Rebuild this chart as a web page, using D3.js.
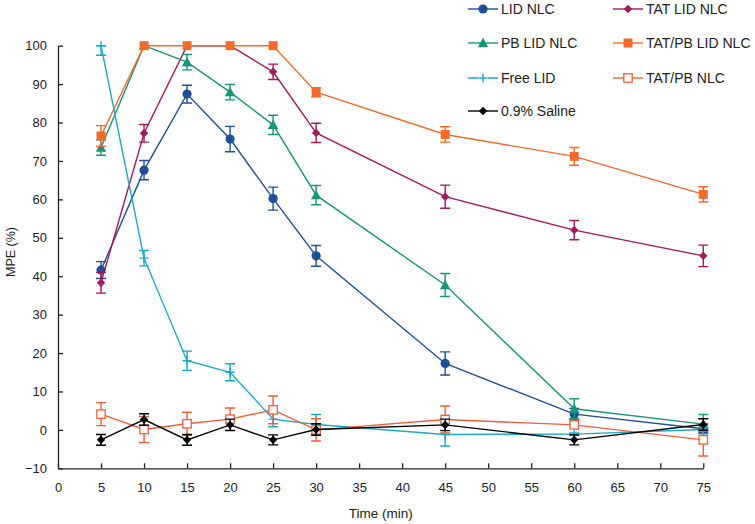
<!DOCTYPE html>
<html>
<head>
<meta charset="utf-8">
<script src="https://cdn.jsdelivr.net/npm/d3@7"></script>
<style>
body { margin: 0; background: #fff; }
svg { font-family: "Liberation Sans", Arial, sans-serif; }
</style>
</head>
<body>
<div id="chart"></div>
<script>
var width = 755, height = 524;

// time points (min)
var times = [5, 10, 15, 20, 25, 30, 45, 60, 75];
var xTicks = [0, 5, 10, 15, 20, 25, 30, 35, 40, 45, 50, 55, 60, 65, 70, 75];
var yTicks = [-10, 0, 10, 20, 30, 40, 50, 60, 70, 80, 90, 100];

// MPE (%) means and errors
var lidNlc = [41.6, 67.6, 87.4, 75.7, 60.2, 45.3, 17.3, 4.1, 0.3];
var lidNlcErr = [2.2, 2.5, 2.3, 3.3, 3.0, 2.7, 3.0, 1.5, 1.0];
var tatLidNlc = [38.3, 77.2, 100, 100, 93.2, 77.3, 60.7, 52.0, 45.3];
var tatLidNlcErr = [2.7, 2.3, 0, 0, 2.0, 2.5, 3.0, 2.5, 2.8];
var pbLidNlc = [73.5, 100, 95.7, 87.9, 79.4, 61.1, 37.7, 5.5, 1.5];
var pbLidNlcErr = [2.0, 0, 2.0, 2.0, 2.5, 2.5, 3.0, 2.6, 2.5];
var tatPbLidNlc = [76.5, 100, 100, 100, 100, 87.9, 76.9, 71.2, 61.3];
var tatPbLidNlcErr = [2.7, 0, 0, 0, 0, 1.2, 2.0, 2.3, 2.0];
var freeLid = [100, 44.7, 18.0, 15.0, 2.8, 1.4, -1.2, -1.1, 0.1];
var freeLidErr = [2.5, 2.0, 2.5, 2.2, 2.0, 2.6, 3.0, 0.3, 0.5];
var tatPbNlc = [4.1, 0.1, 1.6, 2.8, 5.2, 0.0, 2.7, 1.3, -2.6];
var tatPbNlcErr = [3.0, 3.4, 3.0, 2.9, 3.6, 2.9, 3.5, 0.3, 4.2];
var saline = [-2.6, 2.7, -2.6, 1.3, -2.6, 0.1, 1.3, -2.6, 1.4];
var salineErr = [1.4, 1.5, 1.4, 1.5, 1.3, 1.5, 1.5, 1.3, 1.5];

var seriesNames = ["LID NLC", "TAT LID NLC", "PB LID NLC", "TAT/PB LID NLC", "Free LID", "TAT/PB NLC", "0.9% Saline"];
var seriesColors = ["#1f4f96", "#a2195c", "#17967a", "#f26b2d", "#1ba9c7", "#f0603a", "#000000"];
var seriesShapes = ["circle", "diamond", "triangle", "square", "plus", "hollowSquare", "diamond"];
var seriesVals = [lidNlc, tatLidNlc, pbLidNlc, tatPbLidNlc, freeLid, tatPbNlc, saline];
var seriesErrs = [lidNlcErr, tatLidNlcErr, pbLidNlcErr, tatPbLidNlcErr, freeLidErr, tatPbNlcErr, salineErr];

var series = seriesNames.map(function(n, i) {
	return {
		name: n, color: seriesColors[i], shape: seriesShapes[i],
		points: times.map(function(t, j) { return { t: t, v: seriesVals[i][j], e: seriesErrs[i][j] }; })
	};
});

var x0 = 58, x1 = 703.3, y0 = 468.3, y1 = 45.7;
var x = d3.scaleLinear().domain([0, 75]).range([x0, x1]);
var y = d3.scaleLinear().domain([-10, 100]).range([y0, y1]);

var svg = d3.select("#chart").append("svg").attr("width", width).attr("height", height);

// 坐标轴
var xAxis = svg.append("g").attr("transform", "translate(0," + y0 + ")")
	.call(d3.axisBottom(x).tickValues(xTicks).tickSizeInner(-5).tickSizeOuter(0).tickPadding(14));
var yAxis = svg.append("g").attr("transform", "translate(" + x0 + ",0)")
	.call(d3.axisLeft(y).tickValues(yTicks).tickSizeInner(-5).tickSizeOuter(0).tickPadding(11));
[xAxis, yAxis].forEach(function(a) {
	a.selectAll("path").attr("stroke", "#222").attr("stroke-width", 1.3);
	a.selectAll("line").attr("stroke", "#222").attr("stroke-width", 1.3);
	a.selectAll("text").attr("font-size", 13).attr("fill", "#222").attr("font-family", "Liberation Sans, Arial, sans-serif");
});

svg.append("text").attr("x", (x0 + x1) / 2).attr("y", 518).attr("text-anchor", "middle")
	.attr("font-size", 13.5).attr("fill", "#222").text("Time (min)");
svg.append("text").attr("transform", "translate(15,252) rotate(-90)")
	.attr("text-anchor", "middle").attr("font-size", 12.5).attr("fill", "#222").text("MPE (%)");

function drawMarker(g, shape, color, cx, cy) {
	if (shape == "circle") {
		g.append("circle").attr("cx", cx).attr("cy", cy).attr("r", 4.6).attr("fill", color);
	} else if (shape == "diamond") {
		var s = 4.2;
		g.append("path").attr("d", "M" + cx + "," + (cy - s) + "L" + (cx + s) + "," + cy + "L" + cx + "," + (cy + s) + "L" + (cx - s) + "," + cy + "Z").attr("fill", color);
	} else if (shape == "triangle") {
		var s = 5.2;
		g.append("path").attr("d", "M" + cx + "," + (cy - s) + "L" + (cx + s) + "," + (cy + s * 0.8) + "L" + (cx - s) + "," + (cy + s * 0.8) + "Z").attr("fill", color);
	} else if (shape == "square") {
		g.append("rect").attr("x", cx - 4.5).attr("y", cy - 4.5).attr("width", 9).attr("height", 9).attr("fill", color);
	} else if (shape == "hollowSquare") {
		g.append("rect").attr("x", cx - 4.2).attr("y", cy - 4.2).attr("width", 8.4).attr("height", 8.4)
			.attr("fill", "#fff").attr("stroke", color).attr("stroke-width", 1.3);
	} else if (shape == "plus") {
		g.append("path").attr("d", "M" + (cx - 4.5) + "," + cy + "H" + (cx + 4.5) + "M" + cx + "," + (cy - 4.5) + "V" + (cy + 4.5))
			.attr("stroke", color).attr("stroke-width", 1.4);
	}
}

var line = d3.line().x(function(d) { return x(d.t); }).y(function(d) { return y(d.v); });

series.forEach(function(s) {
	var g = svg.append("g");
	// 误差线
	s.points.forEach(function(p) {
		if (p.e <= 0) return;
		var top = Math.min(100, p.v + p.e), bot = p.v - p.e;
		var cx = x(p.t);
		g.append("path")
			.attr("d", "M" + cx + "," + y(top) + "V" + y(bot) +
				"M" + (cx - 5) + "," + y(top) + "H" + (cx + 5) +
				"M" + (cx - 5) + "," + y(bot) + "H" + (cx + 5))
			.attr("stroke", s.color).attr("stroke-width", 1.4).attr("fill", "none");
	});
	g.append("path").datum(s.points).attr("d", line)
		.attr("fill", "none").attr("stroke", s.color).attr("stroke-width", 1.4);
	s.points.forEach(function(p) { drawMarker(g, s.shape, s.color, x(p.t), y(p.v)); });
});

// 图例
var legendPos = [[468, 9], [613, 9], [468, 43], [613, 43], [468, 78], [613, 78], [468, 111]];
series.forEach(function(s, i) {
	var lx = legendPos[i][0], ly = legendPos[i][1];
	var g = svg.append("g");
	if (s.shape == "plus") {
		g.append("path").attr("d", "M" + lx + "," + ly + "H" + (lx + 10) + "M" + (lx + 20) + "," + ly + "H" + (lx + 30))
			.attr("stroke", s.color).attr("stroke-width", 1.4);
	} else {
		g.append("line").attr("x1", lx).attr("x2", lx + 30).attr("y1", ly).attr("y2", ly)
			.attr("stroke", s.color).attr("stroke-width", 1.4);
	}
	drawMarker(g, s.shape, s.color, lx + 15, ly);
	g.append("text").attr("x", lx + 33).attr("y", ly + 5).attr("font-size", 14).attr("fill", "#222").text(s.name);
});
</script>
</body>
</html>
